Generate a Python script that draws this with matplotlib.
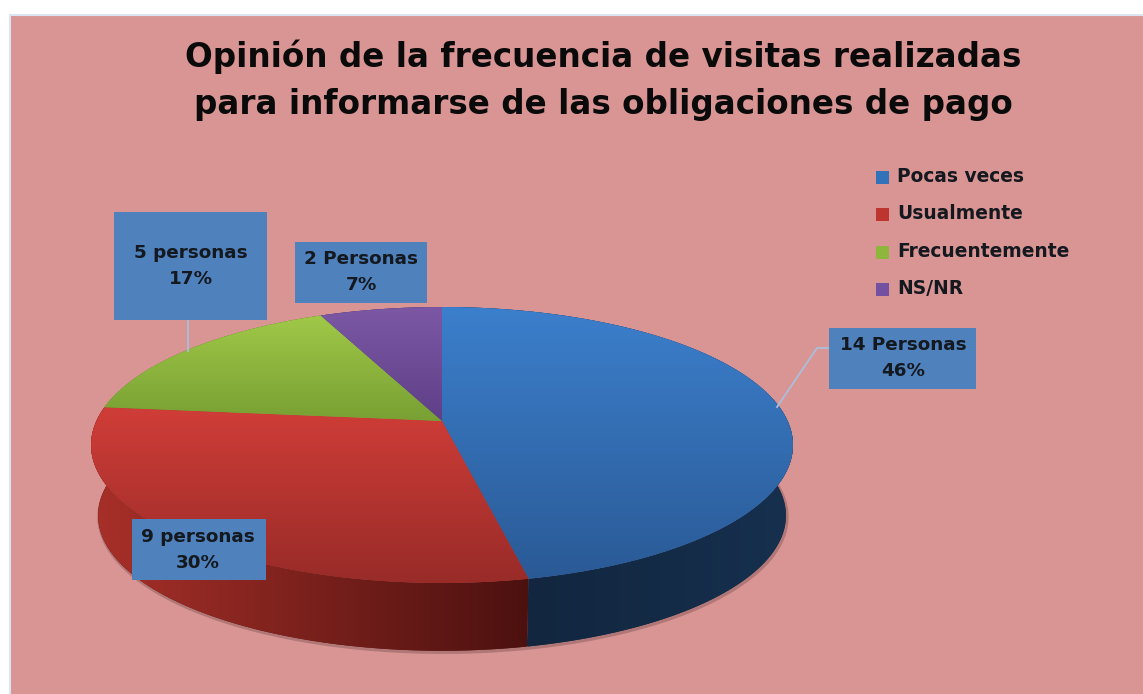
import numpy as np
import matplotlib
matplotlib.use("Agg")
import matplotlib.pyplot as plt
from matplotlib.colors import LinearSegmentedColormap
from matplotlib.patches import Polygon, Rectangle

# data
categorias = ["Pocas veces", "Usualmente", "Frecuentemente", "NS/NR"]
personas = [14, 9, 5, 2]
etiquetas = ["14 Personas\n46%", "9 personas\n30%", "5 personas\n17%", "2 Personas\n7%"]
titulo = "Opinión de la frecuencia de visitas realizadas\npara informarse de las obligaciones de pago"

# colours (top of slice, bottom of slice)
top_colors = [("#3c7fcc", "#2a5a96"), ("#d03d38", "#982b28"), ("#a0c848", "#78a033"), ("#7c58a4", "#5f3f88")]
side_colors = [("#16304e", "#12263f"), ("#a83029", "#4c110f"), ("#6f9030", "#55702a"), ("#52387a", "#42306a")]
legend_colors = ["#3272b8", "#be3530", "#8fb63c", "#7450a0"]
bg = "#d99594"
box_col = "#4f81bd"
line_col = "#a9bfdc"

# pie geometry in picture pixels, with perspective
cx, cy = 442, 421
rx, ry, k = 345.6, 133.8, 0.174
depth, shrink = 71, 0.98


def rim(theta, scale=1.0, dy=0.0):
    u, v = np.sin(theta), np.cos(theta)
    w = 1 + k * v
    return cx + scale * rx * u / w, cy + dy - scale * ry * v / w


def gradient(ax, clip, extent, c0, c1, horizontal=False, z=2):
    cmap = LinearSegmentedColormap.from_list("g", [c0, c1])
    arr = np.linspace(0, 1, 256)
    arr = arr[None, :] if horizontal else arr[:, None]
    im = ax.imshow(arr, cmap=cmap, extent=extent, aspect="auto", origin="upper",
                   interpolation="bilinear", zorder=z)
    im.set_clip_path(clip)


fig = plt.figure(figsize=(11.43, 6.94), dpi=100, facecolor="white")
ax = fig.add_axes([0, 0, 1, 1])
ax.set_axis_off()

ax.add_patch(Rectangle((9.5, 14.5), 1200, 800, facecolor=bg, edgecolor="#dbe5f1", lw=1.5, zorder=0))

vals = np.array(personas, dtype=float)
edges = np.concatenate([[0], np.cumsum(vals)]) / vals.sum() * 2 * np.pi

# soft shadow under the base
t_all = np.linspace(np.pi / 2 - 0.1, 3 * np.pi / 2 + 0.1, 300)
xs, ys = rim(t_all, shrink, depth)
ax.plot(xs + 1, ys + 1.5, color="#3a2020", lw=2.5, alpha=0.25, zorder=1, solid_capstyle="round")

# side walls, only the front ones show
for i in range(len(vals)):
    t = np.linspace(edges[i], edges[i + 1], 200)
    x0, y0 = rim(t)
    x1, y1 = rim(t, shrink, depth)
    pts = np.column_stack([np.r_[x0, x1[::-1]], np.r_[y0, y1[::-1]]])
    p = Polygon(pts, closed=True, facecolor=side_colors[i][1], edgecolor="none", zorder=2)
    ax.add_patch(p)
    if i == 0:
        ext = (528, 793, 660, 400)
        gradient(ax, p, ext, side_colors[i][1], side_colors[i][0], horizontal=True, z=3)
    elif i == 1:
        ext = (91, 528, 660, 400)
        gradient(ax, p, ext, side_colors[i][0], side_colors[i][1], horizontal=True, z=3)

# top faces
for i in range(len(vals)):
    t = np.linspace(edges[i], edges[i + 1], 200)
    x0, y0 = rim(t)
    pts = np.column_stack([np.r_[cx, x0], np.r_[cy, y0]])
    p = Polygon(pts, closed=True, facecolor=top_colors[i][1], edgecolor="none", zorder=4)
    ax.add_patch(p)
    gradient(ax, p, (pts[:, 0].min(), pts[:, 0].max(), pts[:, 1].max(), pts[:, 1].min()),
             top_colors[i][0], top_colors[i][1], z=5)

# leader lines
ax.plot([188, 188], [320, 351], color=line_col, lw=1.3, zorder=6)
ax.plot([829, 817, 777], [348, 348, 407], color=line_col, lw=1.3, zorder=6)

# label boxes
cajas = [(829, 328, 147, 61), (132, 519, 134, 61), (114, 212, 153, 108), (295, 242, 132, 61)]
texto_y = [358, 550, 266, 272]
texto_x = [903, 198, 191, 361]
for lab, (bx, by, bw, bh), tx, ty in zip(etiquetas, cajas, texto_x, texto_y):
    ax.add_patch(Rectangle((bx, by), bw, bh, facecolor=box_col, edgecolor="none", zorder=7))
    ax.text(tx, ty, lab, ha="center", va="center", fontsize=13.2, fontweight="bold",
            color="#14181f", linespacing=1.6, zorder=8)

# legend
leg_y = [177, 214, 252, 289]
for nombre, col, ly in zip(categorias, legend_colors, leg_y):
    ax.add_patch(Rectangle((876, ly - 6), 13, 13, facecolor=col, edgecolor="none", zorder=7))
    ax.text(897, ly - 1, nombre, ha="left", va="center", fontsize=13.4, fontweight="bold",
            color="#14181f", zorder=8)

ax.text(603, 80, titulo, ha="center", va="center", fontsize=23.5, fontweight="bold",
        color="#0a0a0a", linespacing=1.55, zorder=8)

ax.set_xlim(0, 1143)
ax.set_ylim(694, 0)
fig.savefig("out.png", dpi=100)
